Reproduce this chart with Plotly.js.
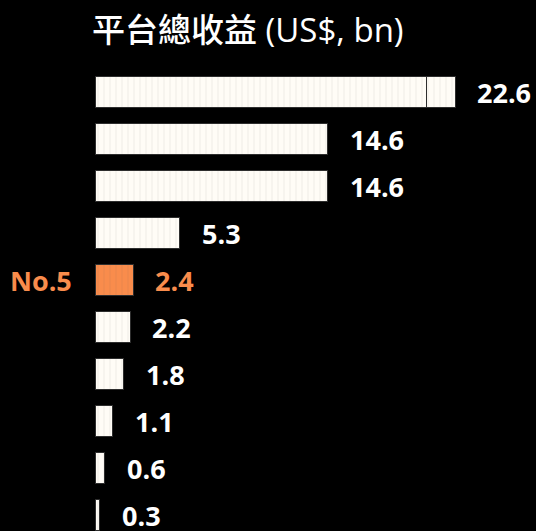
<!DOCTYPE html>
<html>
<head>
<meta charset="utf-8">
<script src="https://cdn.plot.ly/plotly-3.0.1.min.js"></script>
<style>html,body{margin:0;padding:0;background:#000;}#chart{width:536px;height:531px;}</style>
</head>
<body>
<div id="chart"></div>
<script>
// Data
const ranks = [1, 2, 3, 4, 5, 6, 7, 8, 9, 10];
const revenue = [22.6, 14.6, 14.6, 5.3, 2.4, 2.2, 1.8, 1.1, 0.6, 0.3];
const valueLabels = ['22.6', '14.6', '14.6', '5.3', '2.4', '2.2', '1.8', '1.1', '0.6', '0.3'];
const topBarSplit = 20.8; // visible divider inside the first bar
const highlightRank = 5;
const highlightLabel = 'No.5';
const titleText = '平台總收益 (US$, bn)';

const cream = '#FFFCF6';
const orange = '#F98C4C';

const segA = revenue.map((v, i) => i === 0 ? topBarSplit : v);
const segB = revenue.map((v, i) => i === 0 ? +(v - topBarSplit).toFixed(2) : 0);
const colors = ranks.map(r => r === highlightRank ? orange : cream);

const pattern = {shape: '|', fillmode: 'overlay', fgcolor: '#8a7e70', fgopacity: 0.07, size: 6, solidity: 0.2};

const traces = [
  {type: 'bar', orientation: 'h', y: ranks, x: segA, width: 0.65,
   marker: {color: colors, line: {color: '#2e2e2e', width: 1}, pattern: pattern},
   hoverinfo: 'skip'},
  {type: 'bar', orientation: 'h', y: ranks, x: segB, width: 0.65,
   marker: {color: colors, line: {color: '#2e2e2e', width: 1}, pattern: pattern},
   hoverinfo: 'skip'}
];

const annotations = revenue.map((v, i) => ({
  x: v, y: ranks[i], xref: 'x', yref: 'y', text: valueLabels[i],
  showarrow: false, xanchor: 'left', yanchor: 'middle', xshift: 20,
  font: {family: 'Open Sans', size: 27, color: ranks[i] === highlightRank ? orange : '#FFFFFF', weight: 700}
}));
annotations.push({
  x: 0, y: highlightRank, xref: 'x', yref: 'y', text: highlightLabel,
  showarrow: false, xanchor: 'right', yanchor: 'middle', xshift: -21,
  font: {family: 'Open Sans', size: 27, color: orange, weight: 700}
});

const layout = {
  width: 536, height: 531,
  paper_bgcolor: '#000000', plot_bgcolor: '#000000',
  margin: {l: 95, r: 0, t: 68, b: 0},
  barmode: 'stack',
  showlegend: false,
  title: {
    text: titleText, xref: 'container', yref: 'container',
    x: 92 / 536, xanchor: 'left', y: 1 - 30 / 531, yanchor: 'middle',
    font: {family: 'Open Sans, "Noto Sans CJK TC"', size: 33, color: '#FFFFFF', weight: 500}
  },
  xaxis: {range: [0, 27.65], visible: false, fixedrange: true},
  yaxis: {range: [10.34, 0.489], visible: false, fixedrange: true},
  annotations: annotations
};

Plotly.newPlot('chart', traces, layout, {staticPlot: true, displayModeBar: false});
</script>
</body>
</html>
